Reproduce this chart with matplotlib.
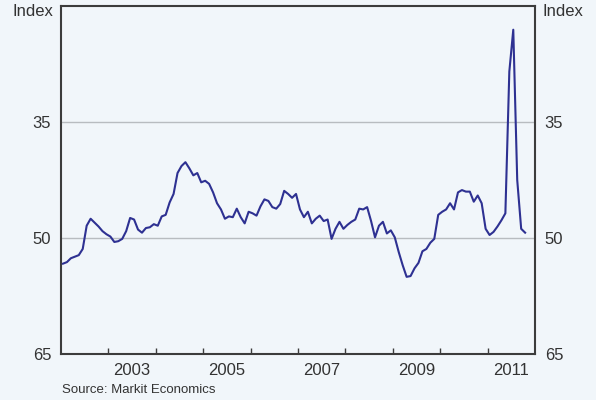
import numpy as np
import matplotlib
matplotlib.use("Agg")
import matplotlib.pyplot as plt
from matplotlib.ticker import FixedLocator, NullFormatter

plt.rcParams['font.family'] = ['Liberation Sans', 'DejaVu Sans']

# monthly index, Jan 2002 onwards
values = [
    53.3, 53.1, 52.6, 52.4, 52.2, 51.4, 48.4, 47.5, 48.0, 48.5, 49.1, 49.5,
    49.8, 50.5, 50.4, 50.1, 49.1, 47.4, 47.6, 48.9, 49.3, 48.7, 48.6, 48.2,
    48.4, 47.2, 47.0, 45.4, 44.3, 41.6, 40.7, 40.2, 41.0, 41.9, 41.6, 42.8,
    42.6, 43.0, 44.1, 45.5, 46.3, 47.5, 47.2, 47.3, 46.2, 47.3, 48.1, 46.6,
    46.8, 47.1, 45.9, 45.0, 45.2, 46.0, 46.2, 45.6, 43.9, 44.3, 44.8, 44.3,
    46.3, 47.3, 46.6, 48.1, 47.5, 47.1, 47.8, 47.6, 50.1, 48.8, 47.9, 48.8,
    48.3, 47.9, 47.6, 46.2, 46.3, 46.0, 47.8, 49.9, 48.4, 47.9, 49.4, 49.0,
    49.9, 51.8, 53.5, 55.0, 54.9, 53.9, 53.2, 51.7, 51.4, 50.6, 50.1, 47.0,
    46.6, 46.3, 45.5, 46.3, 44.1, 43.8, 44.0, 44.0, 45.3, 44.5, 45.5, 48.8,
    49.6, 49.2, 48.5, 47.7, 46.8, 28.5, 23.1, 42.5, 48.8, 49.3,
]
start_year = 2002
year_ticks = list(range(2003, 2012))
year_labels = ["2003", "2005", "2007", "2009", "2011"]
y_ticks = [35, 50, 65]
source = "Source: Markit Economics"

bg = "#F1F6FA"
line_col = "#2E3192"
spine_col = "#3C3C3C"
text_col = "#333333"

dates = start_year + (np.arange(len(values)) + 0.5) / 12

fig = plt.figure(figsize=(5.96, 4.0), dpi=100, facecolor=bg)
ax = fig.add_axes([61 / 596, 1 - 354.3 / 400, 474 / 596, 348.6 / 400])
ax.set_facecolor(bg)

ax.plot(dates, values, color=line_col, lw=1.5, zorder=3)

ax.set_xlim(2002, 2012)
ax.set_ylim(65, 20)

for g in [35, 50]:
    ax.axhline(g, color="#B8BCC0", lw=1.0, zorder=1)

ax.xaxis.set_major_locator(FixedLocator(year_ticks))
ax.xaxis.set_major_formatter(NullFormatter())
ax.xaxis.set_minor_locator(FixedLocator([int(y) + 0.5 for y in year_labels]))
ax.set_xticklabels(year_labels, minor=True)
ax.tick_params(axis="x", which="major", direction="in", length=4, width=1, color=spine_col)
ax.tick_params(axis="x", which="minor", length=0, pad=6, labelsize=12, labelcolor=text_col)

ax.set_yticks(y_ticks)
ax.set_yticklabels([str(v) for v in y_ticks])
ax.tick_params(axis="y", length=0, pad=7, labelsize=12, labelcolor=text_col,
               left=True, right=True, labelleft=True, labelright=True)

for s in ax.spines.values():
    s.set_color(spine_col)
    s.set_linewidth(1.5)

fig.text(53 / 596, 1 - 12 / 400, "Index", ha="right", va="center", fontsize=12, color=text_col)
fig.text(542 / 596, 1 - 12 / 400, "Index", ha="left", va="center", fontsize=12, color=text_col)
fig.text(62 / 596, 1 - 390 / 400, source, ha="left", va="center", fontsize=9.5, color=text_col)

fig.savefig("out.png", dpi=100, facecolor=bg)
